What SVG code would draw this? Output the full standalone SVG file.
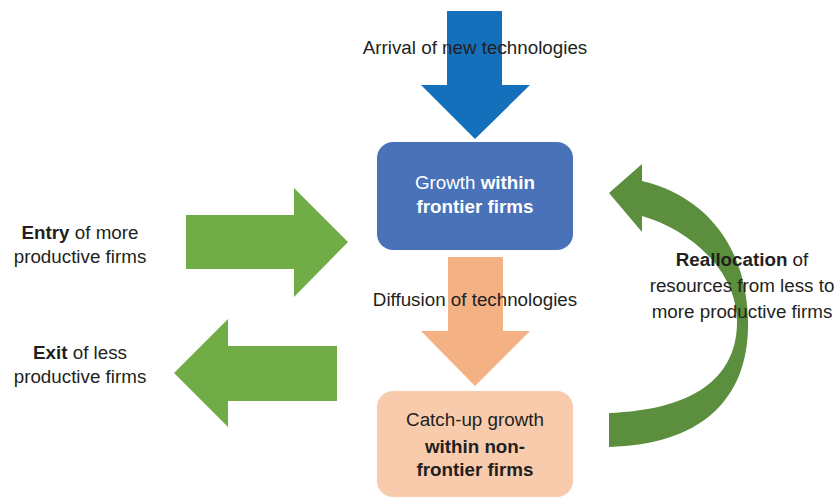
<svg xmlns="http://www.w3.org/2000/svg" width="836" height="498" viewBox="0 0 836 498">
<style>
text{font-family:"Liberation Sans",Arial,sans-serif;font-size:18.8px;fill:#231f20;text-anchor:middle}
.b{font-weight:bold}
.w{fill:#ffffff}
.green{fill:#70ad47}
.dgreen{fill:#5b8f3e}
</style>
<rect width="836" height="498" fill="#ffffff"/>
<g id="connectors">
<polygon id="arrival-arrow" points="447,11 502,11 502,85 530,85 475,139 421,85 447,85" fill="#1570bb"/>
<polygon id="diffusion-arrow" points="448,257 503,257 503,331 530,331 475,386 421,331 448,331" fill="#f4b183"/>
<polygon id="entry-arrow" class="green" points="186,215 294,215 294,188 348,242 294,297 294,269 186,269"/>
<polygon id="exit-arrow" class="green" points="337,346 228,346 228,319 174,373 228,427 228,401 337,401"/>
<path id="reallocation-arrow" class="dgreen" d="M609,447 C700,445 750,400 748,320 C746,245 705,196 642,181 L642,164 L609,193 L642,232 L642,216 C690,230 737,270 737,322 C737,380 690,410 609,413 Z"/>
</g>
<g id="arrival-label"><text x="475" y="54">Arrival of new technologies</text></g>
<g id="diffusion-label"><text x="475" y="306">Diffusion of technologies</text></g>
<g id="frontier">
<rect x="377" y="142" width="196" height="108" rx="16" fill="#4a72b8"/>
<text class="w" x="475" y="189">Growth <tspan class="b">within</tspan></text>
<text class="w b" x="475" y="213">frontier firms</text>
</g>
<g id="nonfrontier">
<rect x="377" y="391" width="196" height="106" rx="16" fill="#f8cbad"/>
<text x="475" y="426">Catch-up growth</text>
<text class="b" x="475" y="453">within non-</text>
<text class="b" x="475" y="476">frontier firms</text>
</g>
<g id="entry">
<text x="80" y="239"><tspan class="b">Entry</tspan> of more</text>
<text x="80" y="263">productive firms</text>
</g>
<g id="exit">
<text x="80" y="359"><tspan class="b">Exit</tspan> of less</text>
<text x="80" y="383">productive firms</text>
</g>
<g id="reallocation">
<text x="742" y="266"><tspan class="b">Reallocation</tspan> of</text>
<text x="742" y="292">resources from less to</text>
<text x="742" y="318">more productive firms</text>
</g>
</svg>
